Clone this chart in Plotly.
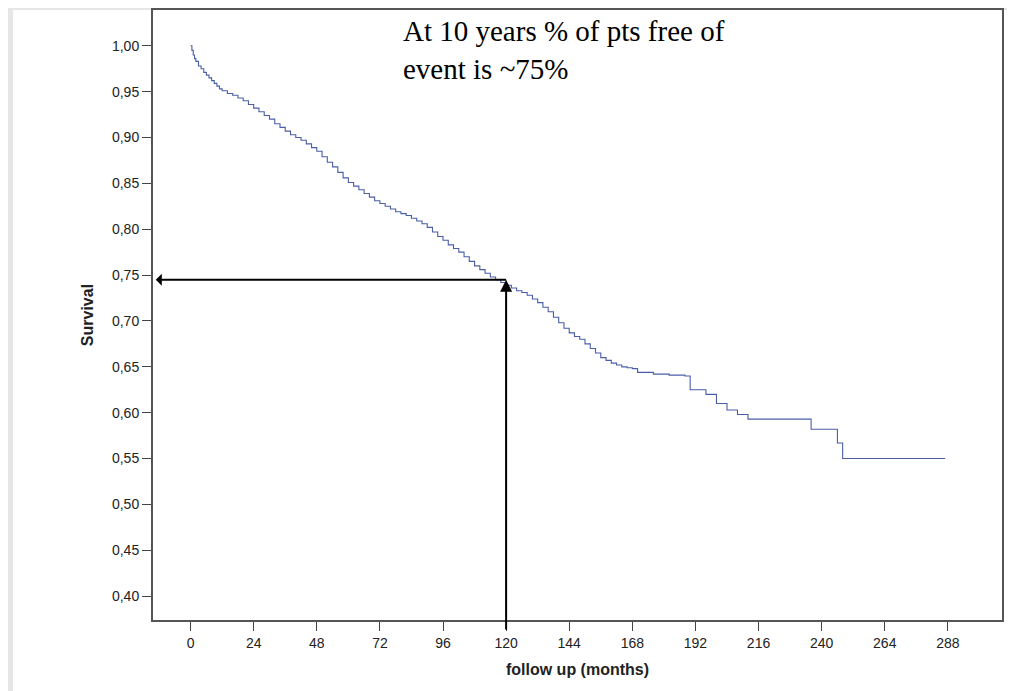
import plotly.graph_objects as go

months = [0,0.5,1,1.5,2,3,4,5,6,7,8,9,10,11,12,14,16,18,20,22,24,26,28,30,32,34,36,38,40,42,44,46,48,50,52,54,56,58,60,62,64,66,68,70,72,74,76,78,80,82,84,86,88,90,92,94,96,98,100,102,104,106,108,110,112,114,116,118,120,122,124,126,128,130,132,134,136,138,140,142,144,146,148,150,152,154,156,158,160,162,164,166,168,170,176,182,188,190,196,200,204,208,212,218,226,234,236,246,248,287]
surv = [1.0,0.995,0.99,0.986,0.983,0.978,0.975,0.971,0.968,0.965,0.962,0.959,0.956,0.953,0.951,0.948,0.946,0.943,0.94,0.936,0.932,0.928,0.924,0.92,0.915,0.911,0.907,0.903,0.9,0.897,0.893,0.889,0.885,0.879,0.873,0.868,0.862,0.856,0.851,0.847,0.843,0.839,0.835,0.831,0.828,0.825,0.822,0.819,0.817,0.815,0.812,0.809,0.806,0.802,0.797,0.792,0.788,0.783,0.779,0.775,0.77,0.765,0.76,0.756,0.752,0.748,0.745,0.742,0.739,0.736,0.733,0.731,0.728,0.724,0.72,0.715,0.71,0.704,0.698,0.692,0.687,0.683,0.68,0.675,0.67,0.665,0.66,0.657,0.654,0.652,0.65,0.649,0.648,0.644,0.642,0.641,0.64,0.625,0.62,0.61,0.603,0.598,0.593,0.593,0.593,0.593,0.582,0.567,0.55,0.55]

xticks = list(range(0, 289, 24))
yticks = [0.40,0.45,0.50,0.55,0.60,0.65,0.70,0.75,0.80,0.85,0.90,0.95,1.00]
ylabels = [f"{v:.2f}".replace(".", ",") for v in yticks]

fig = go.Figure(go.Scatter(x=months, y=surv, mode="lines", line=dict(shape="hv", color="#4a5ea8", width=1.1), showlegend=False))

L, R, T, B = 145, 21, 0, 79
W, H = 1015 - L - R, 691 - T - B
fig.update_layout(
    width=1015, height=691,
    margin=dict(l=L, r=R, t=T, b=B),
    paper_bgcolor="white", plot_bgcolor="white",
    font=dict(family="Liberation Sans", color="#222", size=14),
    xaxis=dict(range=[-14.3, 308.6], tickvals=xticks, ticks="outside", ticklen=9, tickcolor="#444",
               showgrid=False, zeroline=False, showline=True, linecolor="#555", linewidth=2, mirror=True,
               title=dict(text="<b>follow up (months)</b>", font=dict(size=16), standoff=14)),
    yaxis=dict(range=[0.374, 1.039], tickvals=yticks, ticktext=ylabels, ticks="outside", ticklen=9, tickcolor="#444",
               showgrid=False, zeroline=False, showline=True, linecolor="#555", linewidth=2, mirror=True,
               title=dict(text="<b>Survival</b>", font=dict(size=16), standoff=14)),
)
# light gray page frame
px, py = 1.0 / W, 1.0 / H
frames = [(-L*px, -B*py, (-L+5)*px, 1 + 12*py), (1 + (R-6)*px, -B*py, 1 + (R+10)*px, 1 + 12*py),
          (-L*px, 1 + 0*py, 1 + (R+10)*px, 1 + 12*py), (-L*px, -(B+10)*py, 1 + (R+10)*px, -(B-5)*py)]
for x0, y0, x1, y1 in frames:
    fig.add_shape(type="rect", xref="paper", yref="paper", x0=x0, y0=y0, x1=x1, y1=y1,
                  fillcolor="#e6e6e6", line_width=0, layer="below")

fig.add_annotation(x=120, y=0.745, ax=-13.8, ay=0.745, xref="x", yref="y", axref="x", ayref="y",
                   text="", showarrow=True, arrowhead=2, arrowsize=1.2, arrowwidth=2, arrowcolor="black", arrowside="start")
fig.add_annotation(x=120, y=0.745, ax=120, ay=0.362, xref="x", yref="y", axref="x", ayref="y",
                   text="", showarrow=True, arrowhead=2, arrowsize=1.2, arrowwidth=2, arrowcolor="black")
fig.add_annotation(x=80, y=1.036, xref="x", yref="y", xanchor="left", yanchor="top", showarrow=False, align="left",
                   text="At 10 years % of pts free of<br>event is ~75%",
                   font=dict(family="Liberation Serif", size=29, color="black"))
fig.write_html("out.html")
